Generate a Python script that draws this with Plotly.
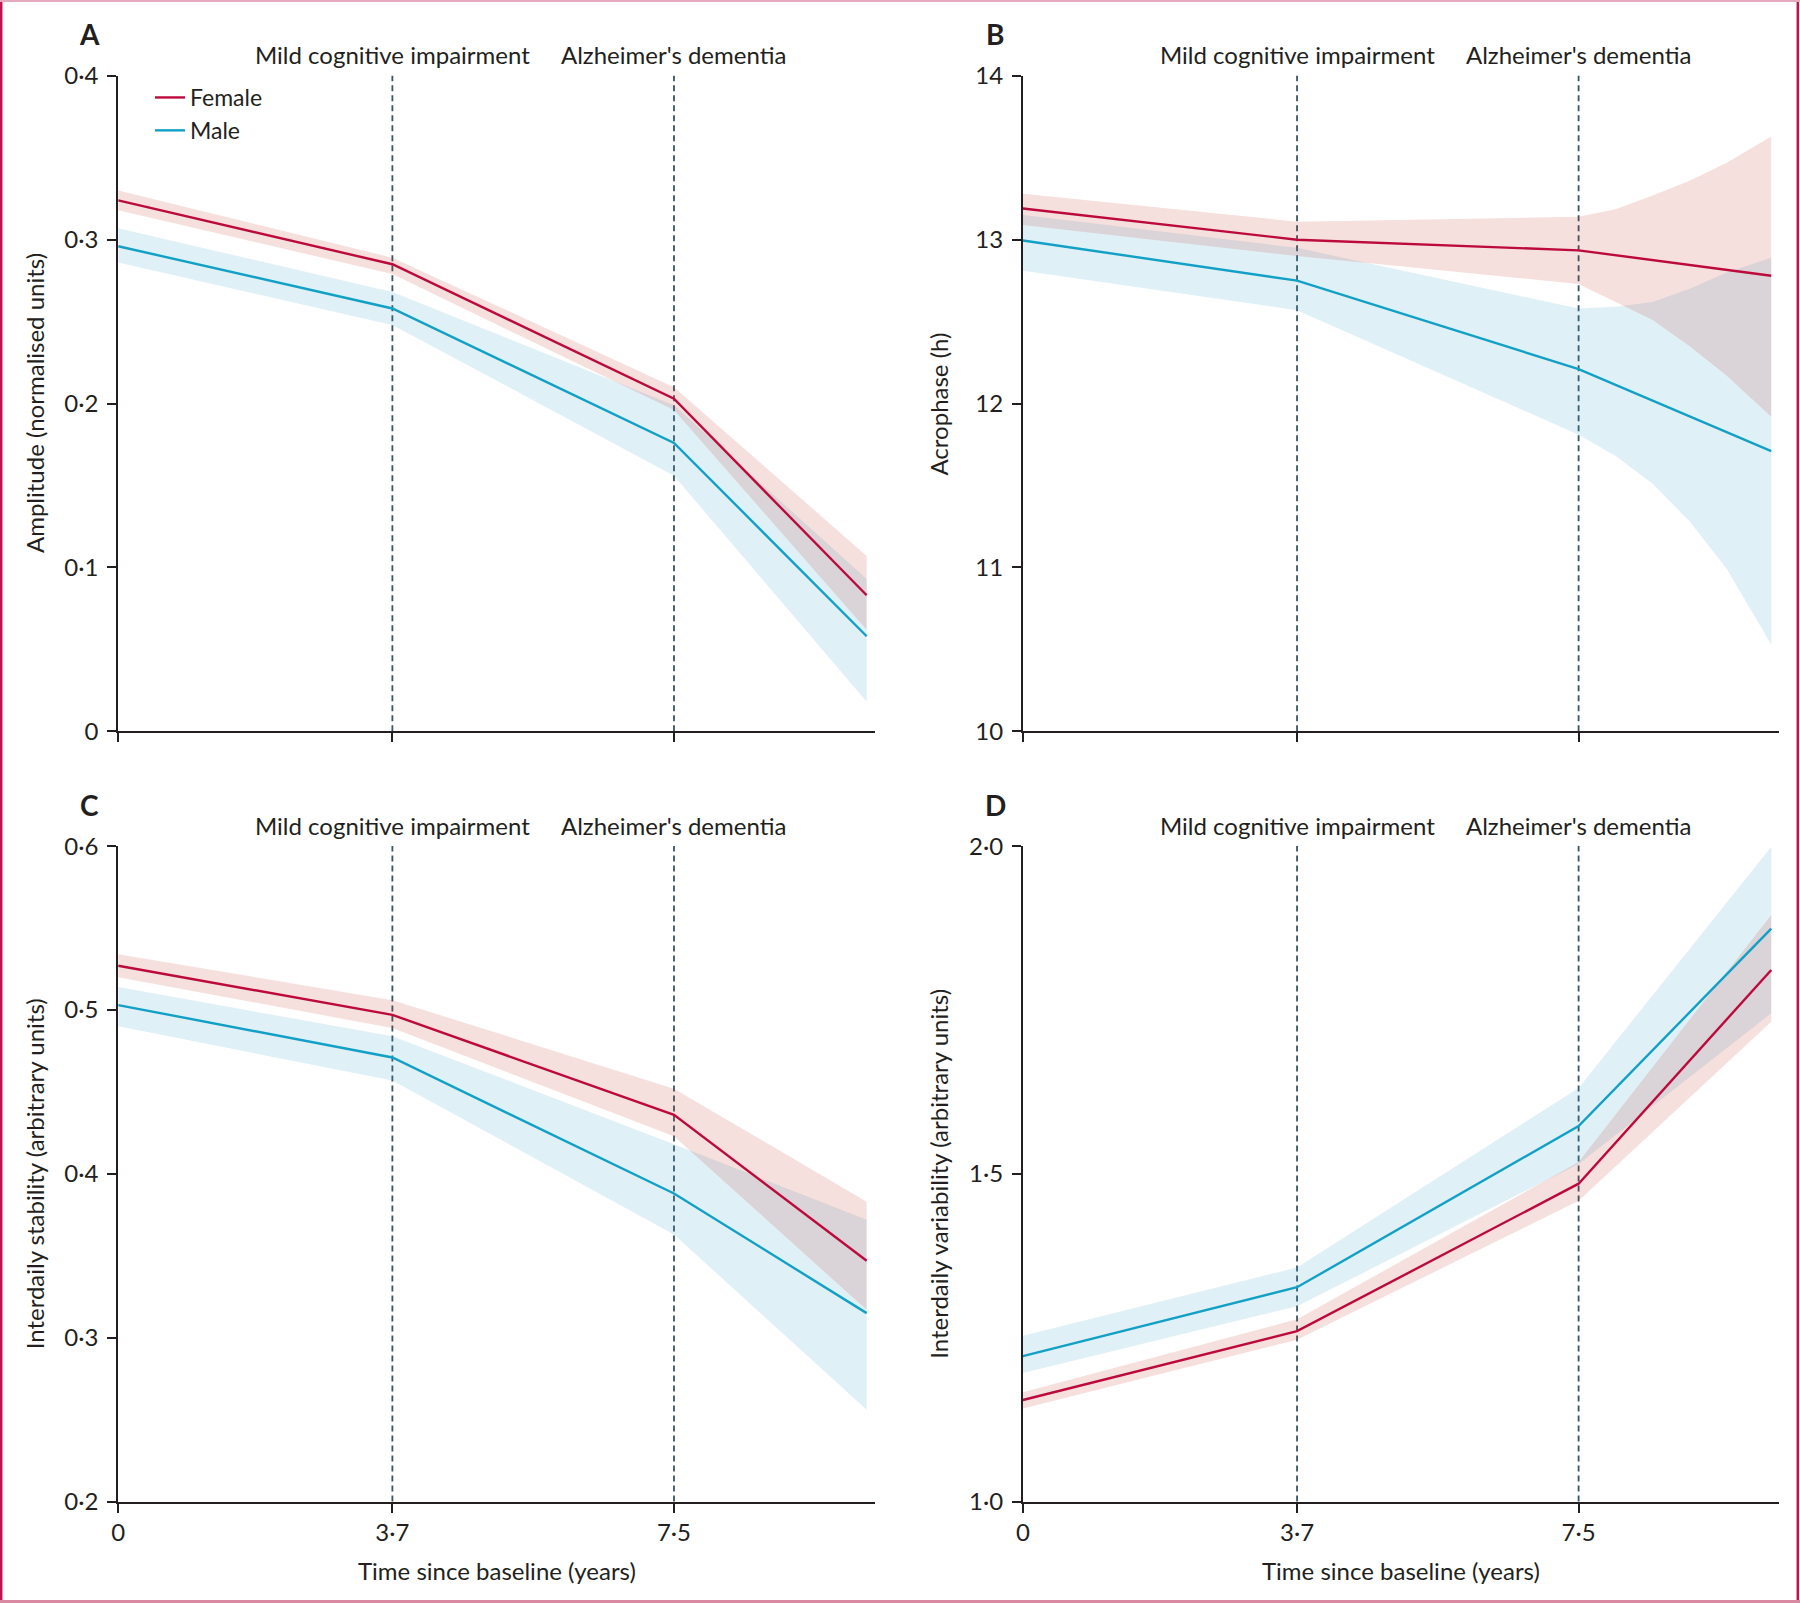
import plotly.graph_objects as go

# ---------------- data ----------------
x_points = [0, 3.7, 7.5, 10.1]
x_tickvals = [0, 3.7, 7.5]
x_ticktext = ["0", "3·7", "7·5"]
stage_x = [3.7, 7.5]
stage_labels = ["Mild cognitive impairment", "Alzheimer's dementia"]
x_title = "Time since baseline (years)"

# Panel A - amplitude
a_female = [0.324, 0.285, 0.203, 0.083]
a_female_lo = [0.318, 0.279, 0.196, 0.062]
a_female_hi = [0.330, 0.289, 0.210, 0.107]
a_male = [0.296, 0.258, 0.176, 0.058]
a_male_lo = [0.286, 0.248, 0.156, 0.018]
a_male_hi = [0.307, 0.268, 0.199, 0.093]
a_tickvals = [0, 0.1, 0.2, 0.3, 0.4]
a_ticktext = ["0", "0·1", "0·2", "0·3", "0·4"]

# Panel B - acrophase
b_female = [13.19, 13.00, 12.935, 12.78]
b_male = [12.995, 12.75, 12.21, 11.71]
b_band_x = [0, 3.7, 7.5, 8.0, 8.5, 9.0, 9.5, 10.1]
b_female_lo = [13.09, 12.90, 12.73, 12.62, 12.51, 12.35, 12.17, 11.92]
b_female_hi = [13.28, 13.11, 13.14, 13.185, 13.27, 13.36, 13.47, 13.63]
b_male_lo = [12.81, 12.57, 11.81, 11.68, 11.51, 11.28, 10.99, 10.53]
b_male_hi = [13.15, 12.95, 12.58, 12.59, 12.62, 12.70, 12.80, 12.89]
b_tickvals = [10, 11, 12, 13, 14]
b_ticktext = ["10", "11", "12", "13", "14"]

# Panel C - interdaily stability
c_female = [0.527, 0.497, 0.436, 0.347]
c_female_lo = [0.520, 0.489, 0.423, 0.317]
c_female_hi = [0.534, 0.506, 0.452, 0.383]
c_male = [0.503, 0.471, 0.388, 0.315]
c_male_lo = [0.490, 0.457, 0.363, 0.256]
c_male_hi = [0.514, 0.484, 0.418, 0.372]
c_tickvals = [0.2, 0.3, 0.4, 0.5, 0.6]
c_ticktext = ["0·2", "0·3", "0·4", "0·5", "0·6"]

# Panel D - interdaily variability
d_female = [1.155, 1.260, 1.485, 1.811]
d_female_lo = [1.142, 1.247, 1.459, 1.732]
d_female_hi = [1.167, 1.278, 1.518, 1.895]
d_male = [1.222, 1.327, 1.573, 1.874]
d_male_lo = [1.196, 1.298, 1.515, 1.745]
d_male_hi = [1.253, 1.357, 1.631, 1.999]
d_tickvals = [1.0, 1.5, 2.0]
d_ticktext = ["1·0", "1·5", "2·0"]

# ---------------- style ----------------
FONT = "Lato"
FS = 24
TXT = "#231f20"
FEMALE = "#bd0a3c"
MALE = "#12a0c6"
FEMALE_FILL = "rgba(188,48,35,0.15)"
MALE_FILL = "rgba(48,155,202,0.15)"
DASH = "#3a5563"
W, H = 1800, 1603

panels = [
    dict(letter="A", ax="", xs=x_points, bx=x_points,
         f=a_female, flo=a_female_lo, fhi=a_female_hi,
         m=a_male, mlo=a_male_lo, mhi=a_male_hi,
         rng=[0, 0.4], tv=a_tickvals, tt=a_ticktext,
         title="Amplitude (normalised units)",
         xdom=[118.2 / W, 874.8 / W], ydom=[1 - 731.3 / H, 1 - 75.8 / H], bottom=False),
    dict(letter="B", ax="2", xs=x_points, bx=b_band_x,
         f=b_female, flo=b_female_lo, fhi=b_female_hi,
         m=b_male, mlo=b_male_lo, mhi=b_male_hi,
         rng=[10, 14], tv=b_tickvals, tt=b_ticktext,
         title="Acrophase (h)",
         xdom=[1022.9 / W, 1779.4 / W], ydom=[1 - 731.3 / H, 1 - 75.8 / H], bottom=False),
    dict(letter="C", ax="3", xs=x_points, bx=x_points,
         f=c_female, flo=c_female_lo, fhi=c_female_hi,
         m=c_male, mlo=c_male_lo, mhi=c_male_hi,
         rng=[0.2, 0.6], tv=c_tickvals, tt=c_ticktext,
         title="Interdaily stability (arbitrary units)",
         xdom=[118.2 / W, 874.8 / W], ydom=[1 - 1501.6 / H, 1 - 846.1 / H], bottom=True),
    dict(letter="D", ax="4", xs=x_points, bx=x_points,
         f=d_female, flo=d_female_lo, fhi=d_female_hi,
         m=d_male, mlo=d_male_lo, mhi=d_male_hi,
         rng=[1.0, 2.0], tv=d_tickvals, tt=d_ticktext,
         title="Interdaily variability (arbitrary units)",
         xdom=[1022.9 / W, 1779.4 / W], ydom=[1 - 1501.6 / H, 1 - 846.1 / H], bottom=True),
]

fig = go.Figure()
layout = dict(
    width=W, height=H,
    margin=dict(l=0, r=0, t=0, b=0),
    paper_bgcolor="white", plot_bgcolor="white",
    font=dict(family=FONT, size=FS, color=TXT),
    showlegend=True,
    legend=dict(x=150 / W, y=1 - 76 / H, xanchor="left", yanchor="top",
                bgcolor="rgba(0,0,0,0)", font=dict(size=FS - 1, color=TXT),
                tracegroupgap=0, itemwidth=30, traceorder="reversed"),
)
annotations = []
shapes = []

for i, p in enumerate(panels):
    xa = "x" + p["ax"]
    ya = "y" + p["ax"]
    bx = p["bx"]
    # CI bands (closed polygons)
    fig.add_trace(go.Scatter(x=bx + bx[::-1], y=p["mhi"] + p["mlo"][::-1],
                             fill="toself", fillcolor=MALE_FILL, line=dict(width=0),
                             mode="lines", hoverinfo="skip", showlegend=False,
                             xaxis=xa, yaxis=ya))
    fig.add_trace(go.Scatter(x=bx + bx[::-1], y=p["fhi"] + p["flo"][::-1],
                             fill="toself", fillcolor=FEMALE_FILL, line=dict(width=0),
                             mode="lines", hoverinfo="skip", showlegend=False,
                             xaxis=xa, yaxis=ya))
    fig.add_trace(go.Scatter(x=p["xs"], y=p["m"], mode="lines", name="Male",
                             line=dict(color=MALE, width=2.4),
                             showlegend=(i == 0), xaxis=xa, yaxis=ya))
    fig.add_trace(go.Scatter(x=p["xs"], y=p["f"], mode="lines", name="Female",
                             line=dict(color=FEMALE, width=2.4),
                             showlegend=(i == 0), xaxis=xa, yaxis=ya))

    axis_common = dict(showgrid=False, zeroline=False, showline=True,
                       linecolor=TXT, linewidth=2, ticks="outside",
                       ticklen=9, tickwidth=2, tickcolor=TXT,
                       tickfont=dict(family=FONT, size=FS, color=TXT),
                       automargin=False, fixedrange=True)
    key = p["ax"]
    layout["xaxis" + key] = dict(axis_common, domain=p["xdom"], range=[0, 10.21],
                                 tickmode="array", tickvals=x_tickvals, ticktext=x_ticktext,
                                 showticklabels=p["bottom"], anchor=ya)
    layout["yaxis" + key] = dict(axis_common, domain=p["ydom"], range=p["rng"],
                                 tickmode="array", tickvals=p["tv"], ticktext=p["tt"],
                                 anchor=xa, ticklabelstandoff=4)

    # dashed stage lines
    for sx in stage_x:
        shapes.append(dict(type="line", xref=xa, yref=ya + " domain", x0=sx, x1=sx,
                           y0=0, y1=1, line=dict(color=DASH, width=1.8, dash="6px,4px"),
                           layer="below"))
    # stage labels
    top_px = 75.8 if not p["bottom"] else 846.1
    for sx, lab in zip(stage_x, stage_labels):
        annotations.append(dict(text=lab, xref=xa, yref="paper", x=sx,
                                y=1 - (top_px - 21) / H, xanchor="center",
                                yanchor="middle", showarrow=False,
                                font=dict(family=FONT, size=FS, color=TXT)))
    # panel letter
    letter_x = 89.5 if p["xdom"][0] < 0.5 else 995.0
    annotations.append(dict(text="<b>" + p["letter"] + "</b>", xref="paper", yref="paper",
                            x=letter_x / W, y=1 - (top_px - 41.5) / H,
                            xanchor="center", yanchor="middle", showarrow=False,
                            font=dict(family=FONT, size=28, color=TXT)))
    # y-axis title
    title_x = 34.5 if p["xdom"][0] < 0.5 else 939.0
    annotations.append(dict(text=p["title"], xref="paper", yref=ya + " domain",
                            x=title_x / W, y=0.5, textangle=-90, xanchor="center",
                            yanchor="middle", showarrow=False,
                            font=dict(family=FONT, size=FS, color=TXT)))
    # x-axis title
    if p["bottom"]:
        annotations.append(dict(text=x_title, xref=xa + " domain", yref="paper",
                                x=0.5, y=1 - 1570.5 / H, xanchor="center",
                                yanchor="middle", showarrow=False,
                                font=dict(family=FONT, size=FS, color=TXT)))

# outer frame
shapes += [
    dict(type="line", xref="paper", yref="paper", x0=1.2 / W, x1=1.2 / W, y0=0, y1=1,
         line=dict(color="#c4104e", width=2.5)),
    dict(type="line", xref="paper", yref="paper", x0=1797.8 / W, x1=1797.8 / W, y0=0, y1=1,
         line=dict(color="#c4104e", width=2.5)),
    dict(type="line", xref="paper", yref="paper", x0=0, x1=1, y0=1 - 1 / H, y1=1 - 1 / H,
         line=dict(color="#e7aabd", width=2)),
    dict(type="line", xref="paper", yref="paper", x0=0, x1=1, y0=1.5 / H, y1=1.5 / H,
         line=dict(color="#d98aa2", width=3)),
]

layout["annotations"] = annotations
layout["shapes"] = shapes
fig.update_layout(**layout)
fig.write_html("out.html",
               config={"displayModeBar": False},
               post_script="document.body.style.margin='0';document.body.style.padding='0';")
